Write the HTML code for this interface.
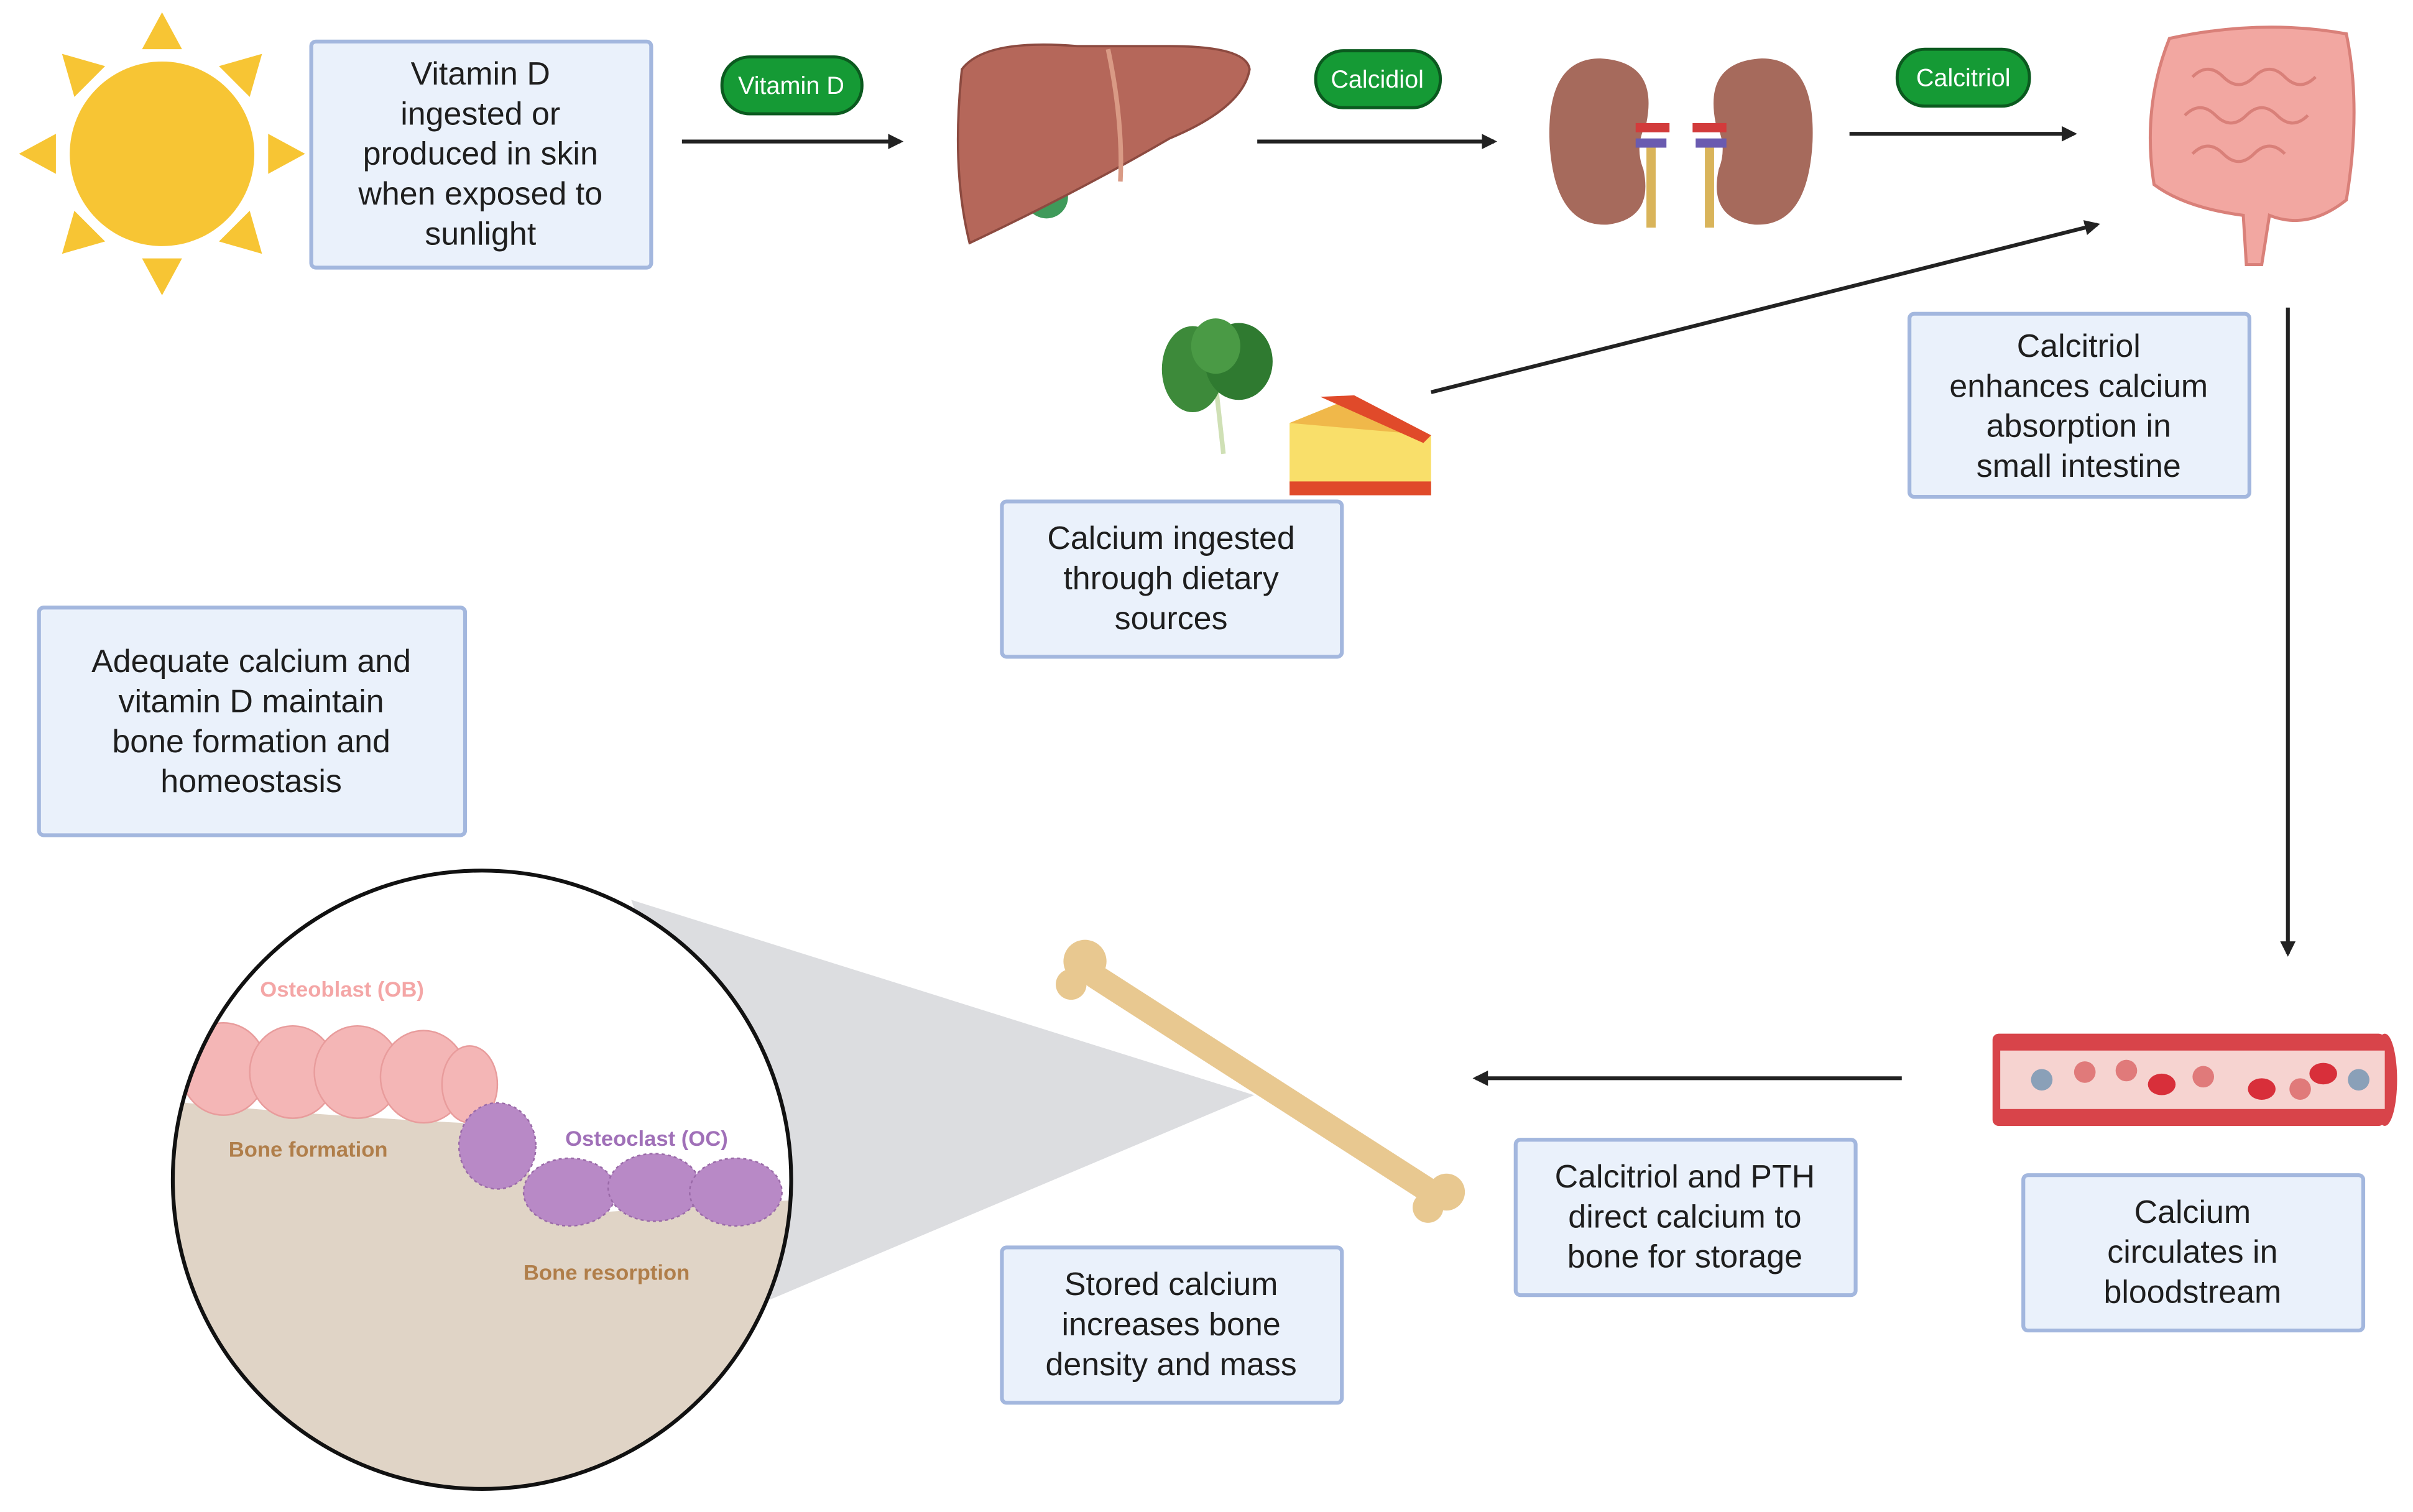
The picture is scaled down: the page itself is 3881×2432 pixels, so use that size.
<!DOCTYPE html>
<html><head><meta charset="utf-8"><style>
html,body{margin:0;padding:0;background:#fff}
svg{display:block}
text{font-family:"Liberation Sans",sans-serif}
.bx{fill:#eaf1fb;stroke:#a3b7de;stroke-width:2.5}
.t{font-size:21px;fill:#1e1e1e;text-anchor:middle}
.ar{stroke:#222;stroke-width:2.5;fill:none}
.pill{fill:#159a35;stroke:#0b5a1f;stroke-width:2}
.pt{font-size:16px;fill:#fff;text-anchor:middle}
</style></head><body>
<svg width="3881" height="2432" viewBox="0 0 1568 983" xmlns="http://www.w3.org/2000/svg">
<defs>
<marker id="ah" markerWidth="10" markerHeight="10" refX="8" refY="5" orient="auto" markerUnits="userSpaceOnUse"><path d="M0,0 L10,5 L0,10 z" fill="#222"/></marker>
<clipPath id="cc"><circle cx="313" cy="767" r="201"/></clipPath>
</defs>
<!-- sun -->
<g fill="#f7c534">
<circle cx="105" cy="100" r="60"/>
<polygon points="105,8 92,32 118,32"/><polygon points="105,192 92,168 118,168"/>
<polygon points="12,100 36,87 36,113"/><polygon points="198,100 174,87 174,113"/>
<polygon points="40,35 68,43 48,63"/><polygon points="170,35 142,43 162,63"/>
<polygon points="40,165 68,157 48,137"/><polygon points="170,165 142,157 162,137"/>
</g>
<!-- box1 -->
<rect class="bx" x="202" y="27" width="221" height="147" rx="3"/>
<text class="t" x="312" y="55">Vitamin D</text><text class="t" x="312" y="81">ingested or</text><text class="t" x="312" y="107">produced in skin</text><text class="t" x="312" y="133">when exposed to</text><text class="t" x="312" y="159">sunlight</text>
<!-- arrows top -->
<line class="ar" x1="443" y1="92" x2="585" y2="92" marker-end="url(#ah)"/>
<line class="ar" x1="817" y1="92" x2="971" y2="92" marker-end="url(#ah)"/>
<line class="ar" x1="1202" y1="87" x2="1348" y2="87" marker-end="url(#ah)"/>
<rect class="pill" x="469" y="37" width="91" height="37" rx="18"/><text class="pt" x="514" y="61">Vitamin D</text>
<rect class="pill" x="855" y="33" width="81" height="37" rx="18"/><text class="pt" x="895" y="57">Calcidiol</text>
<rect class="pill" x="1233" y="32" width="86" height="37" rx="18"/><text class="pt" x="1276" y="56">Calcitriol</text>
<!-- liver -->
<circle cx="680" cy="128" r="14" fill="#3f9a5a"/>
<path d="M625,45 Q640,25 700,30 L760,30 Q810,30 812,45 Q808,70 760,90 Q700,125 630,158 Q618,110 625,45z" fill="#b5675a" stroke="#8c4a40" stroke-width="1.5"/>
<path d="M720,32 Q730,80 728,118" stroke="#d99a85" stroke-width="3" fill="none"/>
<!-- kidneys -->
<path d="M1040,38 Q1005,38 1007,92 Q1010,148 1045,146 Q1075,142 1068,110 Q1062,95 1070,80 Q1078,40 1040,38z" fill="#a66a5c"/>
<path d="M1145,38 Q1180,38 1178,92 Q1175,148 1140,146 Q1110,142 1117,110 Q1123,95 1115,80 Q1107,40 1145,38z" fill="#a66a5c"/>
<rect x="1063" y="80" width="22" height="6" fill="#d23b3b"/><rect x="1100" y="80" width="22" height="6" fill="#d23b3b"/>
<rect x="1063" y="90" width="20" height="6" fill="#6a5bb0"/><rect x="1102" y="90" width="20" height="6" fill="#6a5bb0"/>
<rect x="1070" y="96" width="6" height="52" fill="#d9b45a"/><rect x="1108" y="96" width="6" height="52" fill="#d9b45a"/>
<!-- intestine -->
<path d="M1410,25 Q1470,12 1525,22 Q1535,70 1525,130 Q1500,150 1475,140 L1470,172 L1460,172 L1458,140 Q1420,135 1400,120 Q1392,70 1410,25z" fill="#f2a7a1" stroke="#d98079" stroke-width="2"/>
<path d="M1425,50 q10,-10 20,0 t20,0 t20,0 t20,0 M1420,75 q10,-10 20,0 t20,0 t20,0 t20,0 M1425,100 q10,-10 20,0 t20,0 t20,0" stroke="#d98079" stroke-width="2" fill="none"/>
<!-- diagonal arrow -->
<line class="ar" x1="930" y1="255" x2="1363" y2="146" marker-end="url(#ah)"/>
<!-- greens & cheese -->
<line x1="790" y1="250" x2="795" y2="295" stroke="#cfe0b5" stroke-width="3"/>
<ellipse cx="775" cy="240" rx="20" ry="28" fill="#3d8a3a"/><ellipse cx="805" cy="235" rx="22" ry="25" fill="#2f7a30"/><ellipse cx="790" cy="225" rx="16" ry="18" fill="#4a9a45"/>
<polygon points="838,275 880,258 930,283 930,322 838,315" fill="#f9df6a"/>
<polygon points="838,275 880,258 930,283" fill="#f0b84a"/>
<polygon points="858,258 880,257 930,283 925,288" fill="#e04a2a"/>
<rect x="838" y="313" width="92" height="9" fill="#e04a2a"/>
<!-- boxes -->
<rect class="bx" x="651" y="326" width="221" height="101" rx="3"/>
<text class="t" x="761" y="357">Calcium ingested</text><text class="t" x="761" y="383">through dietary</text><text class="t" x="761" y="409">sources</text>
<rect class="bx" x="1241" y="204" width="221" height="119" rx="3"/>
<text class="t" x="1351" y="232">Calcitriol</text><text class="t" x="1351" y="258">enhances calcium</text><text class="t" x="1351" y="284">absorption in</text><text class="t" x="1351" y="310">small intestine</text>
<line class="ar" x1="1487" y1="200" x2="1487" y2="620" marker-end="url(#ah)"/>
<!-- vessel -->
<rect x="1295" y="672" width="255" height="60" rx="4" fill="#d8444a"/>
<ellipse cx="1550" cy="702" rx="8" ry="30" fill="#d8444a"/>
<rect x="1300" y="683" width="250" height="38" fill="#f6d3d0"/>
<g fill="#d82f3a"><ellipse cx="1405" cy="705" rx="9" ry="7"/><ellipse cx="1470" cy="708" rx="9" ry="7"/><ellipse cx="1510" cy="698" rx="9" ry="7"/></g>
<g fill="#e07a7a"><circle cx="1355" cy="697" r="7"/><circle cx="1382" cy="696" r="7"/><circle cx="1432" cy="700" r="7"/><circle cx="1495" cy="708" r="7"/></g>
<g fill="#8aa0b8"><circle cx="1327" cy="702" r="7"/><circle cx="1533" cy="702" r="7"/></g>
<rect class="bx" x="1315" y="764" width="221" height="101" rx="3"/>
<text class="t" x="1425" y="795">Calcium</text><text class="t" x="1425" y="821">circulates in</text><text class="t" x="1425" y="847">bloodstream</text>
<line class="ar" x1="1236" y1="701" x2="959" y2="701" marker-end="url(#ah)"/>
<rect class="bx" x="985" y="741" width="221" height="101" rx="3"/>
<text class="t" x="1095" y="772">Calcitriol and PTH</text><text class="t" x="1095" y="798">direct calcium to</text><text class="t" x="1095" y="824">bone for storage</text>
<rect class="bx" x="651" y="811" width="221" height="101" rx="3"/>
<text class="t" x="761" y="842">Stored calcium</text><text class="t" x="761" y="868">increases bone</text><text class="t" x="761" y="894">density and mass</text>
<rect class="bx" x="25" y="395" width="277" height="148" rx="3"/>
<text class="t" x="163" y="437">Adequate calcium and</text><text class="t" x="163" y="463">vitamin D maintain</text><text class="t" x="163" y="489">bone formation and</text><text class="t" x="163" y="515">homeostasis</text>
<!-- cone -->
<polygon points="410,585 815,712 500,845" fill="#dcdde0"/>
<!-- bone -->
<line x1="712" y1="635" x2="930" y2="775" stroke="#e8c890" stroke-width="16" stroke-linecap="round"/>
<circle cx="705" cy="625" r="14" fill="#e8c890"/><circle cx="696" cy="640" r="10" fill="#e8c890"/>
<circle cx="940" cy="775" r="12" fill="#e8c890"/><circle cx="928" cy="785" r="10" fill="#e8c890"/>
<!-- circle -->
<circle cx="313" cy="767" r="201" fill="#fff"/>
<g clip-path="url(#cc)">
<path d="M100,715 Q200,725 300,730 L330,740 L360,790 L520,780 L520,980 L100,980z" fill="#e0d4c6"/>
<g fill="#f4b6b6" stroke="#e89c9c"><ellipse cx="145" cy="695" rx="28" ry="30"/><ellipse cx="190" cy="697" rx="28" ry="30"/><ellipse cx="232" cy="697" rx="28" ry="30"/><ellipse cx="275" cy="700" rx="28" ry="30"/><ellipse cx="305" cy="705" rx="18" ry="25"/></g>
<g fill="#b889c6" stroke="#9a6aa8" stroke-dasharray="2 2"><ellipse cx="323" cy="745" rx="25" ry="28"/><ellipse cx="370" cy="775" rx="30" ry="22"/><ellipse cx="425" cy="772" rx="30" ry="22"/><ellipse cx="478" cy="775" rx="30" ry="22"/></g>
</g>
<circle cx="313" cy="767" r="201" fill="none" stroke="#111" stroke-width="2.5"/>
<text x="222" y="648" font-size="14" font-weight="bold" fill="#f4a6a6" text-anchor="middle">Osteoblast (OB)</text>
<text x="200" y="752" font-size="14" font-weight="bold" fill="#b07e4a" text-anchor="middle">Bone formation</text>
<text x="420" y="745" font-size="14" font-weight="bold" fill="#a070b8" text-anchor="middle">Osteoclast (OC)</text>
<text x="394" y="832" font-size="14" font-weight="bold" fill="#b07e4a" text-anchor="middle">Bone resorption</text>
</svg>
</body></html>
